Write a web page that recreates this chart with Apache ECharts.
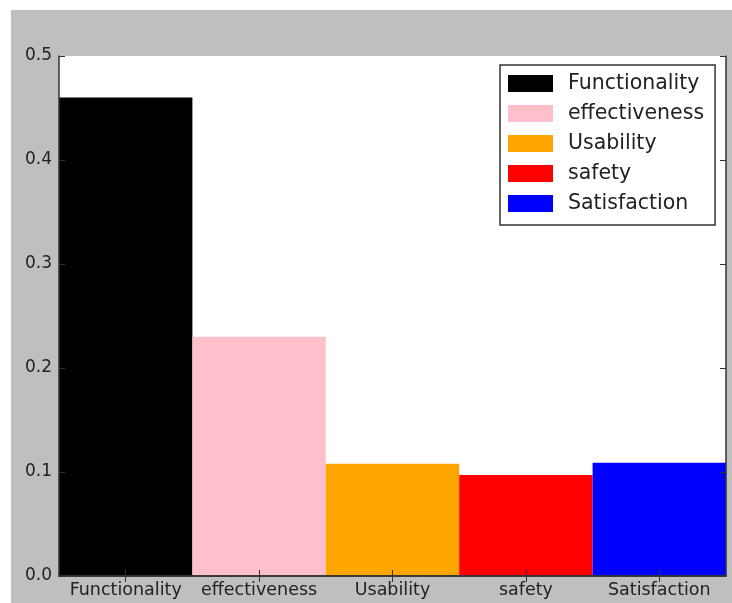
<!DOCTYPE html>
<html>
<head>
<meta charset="utf-8">
<script src="https://cdn.jsdelivr.net/npm/echarts@6/dist/echarts.min.js"></script>
<style>
  html, body { margin: 0; padding: 0; background: #fff; }
  #wrap { position: relative; width: 732px; height: 603px; background: #fff; }
  #backdrop { position: absolute; left: 11px; top: 10px; right: 0; bottom: 0; background: #bfbfbf; }
  #chart { position: absolute; left: 0; top: 0; width: 732px; height: 603px; }
</style>
</head>
<body>
<div id="wrap">
  <div id="backdrop"></div>
  <div id="chart"></div>
</div>
<script>
// Criteria and their weights
const categories = ['Functionality', 'effectiveness', 'Usability', 'safety', 'Satisfaction'];
const weights = [0.46, 0.23, 0.108, 0.097, 0.109];
const barColors = ['#000000', '#ffc0cb', '#ffa500', '#ff0000', '#0000ff'];
const yTicks = [0.0, 0.1, 0.2, 0.3, 0.4, 0.5];

const FONT = 'DejaVu Sans';
const INK = '#222';

const chart = echarts.init(document.getElementById('chart'), null, { renderer: 'canvas' });

// One series per criterion so each gets its own legend entry; stacking keeps
// every bar centred on its own category at full width.
const series = categories.map((name, i) => ({
  name: name,
  type: 'bar',
  stack: 'all',
  barWidth: '100%',
  itemStyle: { color: barColors[i] },
  emphasis: { disabled: true },
  data: weights.map((v, j) => (j === i ? v : '-'))
}));

const yMin = yTicks[0];
const yMax = yTicks[yTicks.length - 1];
const yStep = +(yTicks[1] - yTicks[0]).toFixed(10);

chart.setOption({
  animation: false,
  backgroundColor: 'transparent',
  textStyle: { fontFamily: FONT },
  grid: {
    left: 59, top: 56, width: 667, height: 520,
    show: true, backgroundColor: '#fff', borderWidth: 0
  },
  legend: {
    orient: 'vertical',
    left: 500, top: 65,
    padding: [8, 11, 11, 8],
    itemWidth: 45, itemHeight: 17, itemGap: 9,
    icon: 'rect',
    backgroundColor: '#fff',
    borderColor: '#333', borderWidth: 1.5,
    textStyle: { fontFamily: FONT, fontSize: 20.5, color: INK, padding: [0, 0, 0, 10], lineHeight: 17 },
    data: categories
  },
  xAxis: [{
    type: 'category', data: categories, position: 'bottom', z: 5,
    axisLine: { show: true, lineStyle: { color: '#333', width: 1.5 } },
    axisTick: { show: true, inside: true, alignWithLabel: true, length: 6, lineStyle: { color: '#333' } },
    axisLabel: { fontFamily: FONT, fontSize: 17.5, color: INK, margin: 5, interval: 0 },
    splitLine: { show: false }
  }, {
    type: 'category', data: categories, position: 'top', z: 5,
    axisLine: { show: true, lineStyle: { color: '#333', width: 1.5 } },
    axisTick: { show: true, inside: true, alignWithLabel: true, length: 6, lineStyle: { color: '#333' } },
    axisLabel: { show: false },
    splitLine: { show: false }
  }],
  yAxis: [{
    type: 'value', min: yMin, max: yMax, interval: yStep, position: 'left', z: 5,
    axisLine: { show: true, lineStyle: { color: '#333', width: 1.5 } },
    axisTick: { show: true, inside: true, length: 6, lineStyle: { color: '#333' } },
    axisLabel: { fontFamily: FONT, fontSize: 17, color: INK, margin: 7, formatter: v => v.toFixed(1) },
    splitLine: { show: false }
  }, {
    type: 'value', min: yMin, max: yMax, interval: yStep, position: 'right', z: 5,
    axisLine: { show: true, lineStyle: { color: '#333', width: 1.5 } },
    axisTick: { show: true, inside: true, length: 6, lineStyle: { color: '#333' } },
    axisLabel: { show: false },
    splitLine: { show: false }
  }],
  series: series
});
</script>
</body>
</html>
